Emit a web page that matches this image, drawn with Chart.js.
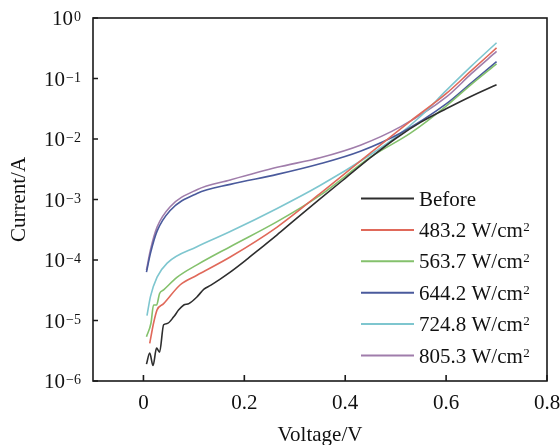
<!DOCTYPE html>
<html>
<head>
<meta charset="utf-8">
<script src="https://cdn.jsdelivr.net/npm/chart.js@4"></script>
<style>
  body { margin: 0; background: #fff; }
  #wrap { width: 560px; height: 445px; }
</style>
</head>
<body>
<div id="wrap"><canvas id="ivChart"></canvas></div>
<script>
/*----------------------------------------------------------------*/
// I-V curves, current on log scale
const seriesLabels = ['Before', '483.2 W/cm', '563.7 W/cm', '644.2 W/cm', '724.8 W/cm', '805.3 W/cm'];
const seriesSup = ['', '2', '2', '2', '2', '2'];
const seriesColors = ['#2e2e2e', '#e0695a', '#84c16c', '#4a5a9c', '#7ec6cf', '#a07dab'];

const voltBefore = [0.006, 0.0125, 0.019, 0.026, 0.032, 0.04, 0.047, 0.06, 0.07, 0.08, 0.09, 0.106, 0.12, 0.133, 0.15, 0.172, 0.2, 0.225, 0.265, 0.3, 0.35, 0.4, 0.45, 0.5, 0.55, 0.6, 0.65, 0.7];
const curBefore = [1.9e-6, 2.9e-6, 1.8e-6, 3.5e-6, 3.0e-6, 8.5e-6, 8.9e-6, 1.15e-5, 1.5e-5, 1.8e-5, 1.9e-5, 2.45e-5, 3.3e-5, 3.8e-5, 4.7e-5, 6.3e-5, 9.5e-5, 1.4e-4, 2.6e-4, 4.6e-4, 1.02e-3, 2.24e-3, 4.9e-3, 1.02e-2, 1.9e-2, 3.16e-2, 5.1e-2, 7.9e-2];

const volt483 = [0.0125, 0.02, 0.027, 0.04, 0.073, 0.106, 0.172, 0.265, 0.35, 0.45, 0.53, 0.6, 0.65, 0.7];
const cur483 = [4.2e-6, 9e-6, 1.5e-5, 1.9e-5, 3.9e-5, 5.6e-5, 1.12e-4, 3.5e-4, 1.25e-3, 5.9e-3, 2.0e-2, 5.6e-2, 1.35e-1, 3.2e-1];

const volt563 = [0.006, 0.015, 0.02, 0.026, 0.032, 0.04, 0.067, 0.106, 0.172, 0.265, 0.35, 0.45, 0.53, 0.6, 0.65, 0.7];
const cur563 = [5.4e-6, 9.1e-6, 1.8e-5, 1.8e-5, 2.8e-5, 3.2e-5, 5.2e-5, 8.3e-5, 1.66e-4, 4.3e-4, 1.17e-3, 5.0e-3, 1.26e-2, 3.5e-2, 8.0e-2, 1.75e-1];

const volt644 = [0.006, 0.014, 0.027, 0.053, 0.106, 0.172, 0.265, 0.35, 0.43, 0.51, 0.6, 0.65, 0.7];
const cur644 = [6.3e-5, 1.3e-4, 3.0e-4, 6.6e-4, 1.26e-3, 1.78e-3, 2.6e-3, 3.9e-3, 6.3e-3, 1.26e-2, 3.8e-2, 8.5e-2, 1.9e-1];

const volt724 = [0.007, 0.014, 0.027, 0.047, 0.106, 0.172, 0.265, 0.35, 0.45, 0.5, 0.55, 0.6, 0.65, 0.7];
const cur724 = [1.2e-5, 2.5e-5, 5.2e-5, 8.9e-5, 1.66e-4, 2.95e-4, 7.1e-4, 1.7e-3, 5.5e-3, 1.07e-2, 2.4e-2, 6.3e-2, 1.6e-1, 3.9e-1];

const volt805 = [0.006, 0.014, 0.027, 0.053, 0.106, 0.172, 0.265, 0.35, 0.43, 0.51, 0.6, 0.65, 0.7];
const cur805 = [6.8e-5, 1.48e-4, 3.5e-4, 7.6e-4, 1.45e-3, 2.1e-3, 3.4e-3, 4.9e-3, 7.9e-3, 1.6e-2, 4.9e-2, 1.2e-1, 2.8e-1];

const xTicks = [0, 0.2, 0.4, 0.6, 0.8];
const xTickLabels = ['0', '0.2', '0.4', '0.6', '0.8'];
const yTicks = [1, 1e-1, 1e-2, 1e-3, 1e-4, 1e-5, 1e-6];
const yTickExp = ['0', '\u22121', '\u22122', '\u22123', '\u22124', '\u22125', '\u22126'];

function pts(xs, ys) {
    return xs.map((x, i) => ({ x: x, y: ys[i] }));
}

const allVolt = [voltBefore, volt483, volt563, volt644, volt724, volt805];
const allCur = [curBefore, cur483, cur563, cur644, cur724, cur805];

const SERIF = '"Liberation Serif", "Times New Roman", serif';

const frameAndText = {
    id: 'frameAndText',
    afterDraw(chart) {
        const { ctx, chartArea: a, scales } = chart;
        const xs = scales.x, ys = scales.y;
        ctx.save();
        // frame
        ctx.strokeStyle = '#1a1a1a';
        ctx.lineWidth = 1.6;
        ctx.strokeRect(a.left, a.top, a.right - a.left, a.bottom - a.top);
        // inside ticks
        ctx.beginPath();
        yTicks.forEach(v => {
            const y = ys.getPixelForValue(v);
            ctx.moveTo(a.left, y);
            ctx.lineTo(a.left + 5, y);
        });
        xTicks.forEach(v => {
            const x = xs.getPixelForValue(v);
            ctx.moveTo(x, a.bottom);
            ctx.lineTo(x, a.bottom - 6);
        });
        ctx.stroke();

        ctx.fillStyle = '#111';
        // y tick labels 10^n
        yTicks.forEach((v, i) => {
            const y = ys.getPixelForValue(v);
            ctx.font = '21px ' + SERIF;
            const wb = ctx.measureText('10').width;
            ctx.font = '14px ' + SERIF;
            const we = ctx.measureText(yTickExp[i]).width;
            const x0 = a.left - 13 - wb - we;
            ctx.font = '21px ' + SERIF;
            ctx.textAlign = 'left';
            ctx.textBaseline = 'alphabetic';
            ctx.fillText('10', x0, y + 7);
            ctx.font = '14px ' + SERIF;
            ctx.fillText(yTickExp[i], x0 + wb + 1, y + 3);
        });
        // x tick labels
        ctx.font = '21px ' + SERIF;
        ctx.textAlign = 'center';
        ctx.textBaseline = 'middle';
        xTicks.forEach((v, i) => {
            ctx.fillText(xTickLabels[i], xs.getPixelForValue(v), a.bottom + 22);
        });
        // axis titles
        ctx.textBaseline = 'alphabetic';
        ctx.fillText('Voltage/V', (a.left + a.right) / 2, 441);
        ctx.save();
        ctx.translate(25, (a.top + a.bottom) / 2);
        ctx.rotate(-Math.PI / 2);
        ctx.fillText('Current/A', 0, 0);
        ctx.restore();

        // legend
        const lx0 = 361, lx1 = 414, ly0 = 198.5, step = 31.4;
        chart.data.datasets.forEach((ds, i) => {
            const y = ly0 + i * step;
            ctx.strokeStyle = ds.borderColor;
            ctx.lineWidth = 2;
            ctx.beginPath();
            ctx.moveTo(lx0, y);
            ctx.lineTo(lx1, y);
            ctx.stroke();
            ctx.fillStyle = '#111';
            ctx.font = '21px ' + SERIF;
            ctx.textAlign = 'left';
            ctx.textBaseline = 'alphabetic';
            ctx.fillText(seriesLabels[i], 419, y + 7);
            if (seriesSup[i]) {
                const w = ctx.measureText(seriesLabels[i]).width;
                ctx.font = '13px ' + SERIF;
                ctx.fillText(seriesSup[i], 419 + w + 0.5, y + 1);
            }
        });
        ctx.restore();
    }
};

new Chart(document.getElementById('ivChart'), {
    type: 'line',
    data: {
        datasets: seriesLabels.map((lab, i) => ({
            label: lab,
            data: pts(allVolt[i], allCur[i]),
            borderColor: seriesColors[i],
            backgroundColor: seriesColors[i],
            borderWidth: 1.6,
            pointRadius: 0,
            cubicInterpolationMode: 'monotone',
            fill: false
        }))
    },
    options: {
        responsive: true,
        maintainAspectRatio: false,
        animation: false,
        layout: {
            padding: { left: 93, right: 13, top: 18, bottom: 64 }
        },
        plugins: {
            legend: { display: false },
            tooltip: { enabled: false }
        },
        scales: {
            x: {
                type: 'linear',
                min: -0.1,
                max: 0.8,
                ticks: { display: false },
                grid: { display: false },
                border: { display: false },
                afterFit(scale) { scale.height = 0; }
            },
            y: {
                type: 'logarithmic',
                min: 1e-6,
                max: 1,
                ticks: { display: false },
                grid: { display: false },
                border: { display: false },
                afterFit(scale) { scale.width = 0; }
            }
        }
    },
    plugins: [frameAndText]
});
/*----------------------------------------------------------------*/
</script>
</body>
</html>
